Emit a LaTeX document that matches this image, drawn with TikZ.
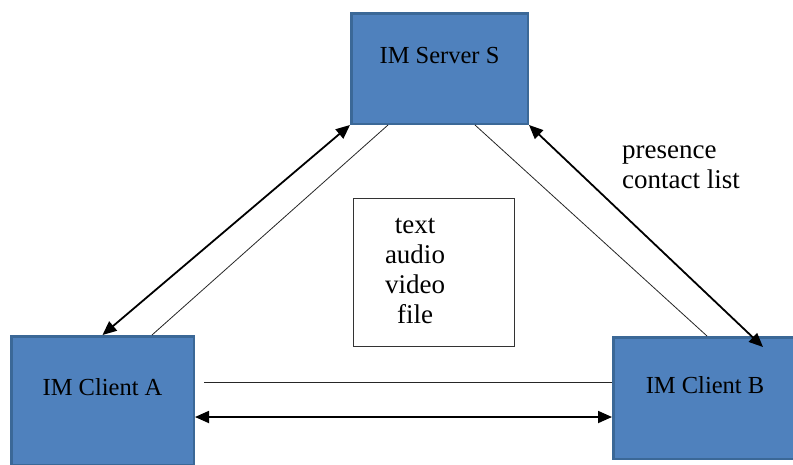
\documentclass[tikz,border=0pt]{standalone}
\usepackage{fontspec}
\setmainfont{Liberation Serif}
\usetikzlibrary{arrows.meta}
\definecolor{imfill}{HTML}{4F81BD}
\definecolor{imedge}{HTML}{3B6897}

\begin{document}
\begin{tikzpicture}[x=1pt, y=-1pt,
    imbox/.style={fill=imfill, draw=imedge, line width=2.5pt, inner sep=0pt,
      font=\fontsize{24.5}{28}\selectfont, text height=17pt, text depth=27pt},
    mediabox/.style={draw=black!80, line width=1.2pt, inner sep=0pt},
    listing/.style={font=\fontsize{27}{30}\selectfont, inner sep=0pt},
    duplex/.style={line width=1.8pt, {Triangle[length=14pt,width=12pt]}-{Triangle[length=14pt,width=12pt]}},
    plainline/.style={line width=0.8pt, draw=black!85}]
  \clip (0,0) rectangle (793,464);
  % the three parties
  \node[imbox, minimum width=176.5pt, minimum height=110.5pt] (srv) at (439.5,68.5) {IM Server S};
  \node[imbox, minimum width=182.5pt, minimum height=128.5pt] (cla) at (102.5,400.5) {IM Client A};
  \node[imbox, minimum width=183.5pt, minimum height=121.5pt] (clb) at (705,398) {IM Client B};
  % what goes between the clients
  \node[mediabox, minimum width=160.8pt, minimum height=147.8pt] (media) at (434,272.5) {};
  \node[listing, align=center] (kinds) at (415,271) {text\\audio\\video\\file};
  \node[listing, align=left, anchor=base west] (state) at (622,188) {presence\\contact list};
  % server links
  \draw[duplex] (srv.south west) -- (cla.north);
  \draw[plainline] ([xshift=38pt]srv.south west) -- ([xshift=49.5pt]cla.north);
  \draw[duplex] (srv.south east) -- ([xshift=58pt,yshift=-11pt]clb.north);
  \draw[plainline] ([xshift=-54pt]srv.south east) -- ([xshift=2pt]clb.north);
  % client to client
  \draw[plainline] ([xshift=9pt,yshift=18.5pt]cla.east) coordinate (h1) -- (h1 -| clb.west);
  \draw[duplex] ([yshift=-16.5pt]cla.east) coordinate (h2) -- (h2 -| clb.west);
\end{tikzpicture}
\end{document}
